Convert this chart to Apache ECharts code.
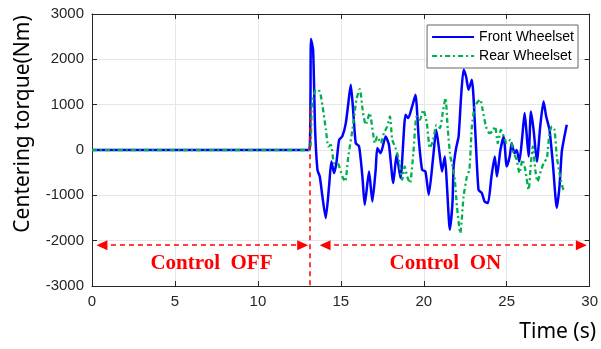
<!DOCTYPE html>
<html>
<head>
<meta charset="utf-8">
<script src="https://cdn.jsdelivr.net/npm/echarts@6/dist/echarts.min.js"></script>
<style>
html, body { margin: 0; padding: 0; background: #fff; }
#chart { width: 601px; height: 349px; }
</style>
</head>
<body>
<div id="chart"></div>
<script>
// [time (s), torque (Nm)]
var frontWheelset = [
    [0, 0], [13.1, 0], [13.2, 2450], [13.33, 2200], [13.45, 445], [13.59, -437], [13.73, -585],
    [13.89, -1026], [14.09, -1500], [14.29, -805], [14.43, -254], [14.59, -510], [14.73, -290],
    [14.9, 225], [15.09, 300], [15.3, 593], [15.5, 1180], [15.6, 1440], [15.74, 887], [15.9, 150],
    [16.1, 80], [16.3, -585], [16.44, -1210], [16.7, -475], [16.9, -1137], [17.1, -437], [17.2, 42],
    [17.4, -70], [17.7, 300], [17.9, 115], [18.16, -730], [18.36, -105], [18.6, -620], [18.9, 777],
    [19.06, 705], [19.3, 960], [19.5, 1220], [19.7, 225], [19.9, -437], [20.1, -475], [20.3, -990],
    [20.57, -143], [20.75, 445], [20.95, -70], [21.1, -475], [21.27, -143], [21.4, -805],
    [21.57, -1760], [21.73, -1170], [21.8, -364], [21.95, 42], [22.1, 300], [22.25, 1180],
    [22.4, 1770], [22.55, 1620], [22.7, 1330], [22.9, 1550], [23.1, 445], [23.3, -880], [23.5, -950],
    [23.67, -1137], [23.87, -1170], [24.08, -585], [24.28, -143], [24.41, -585], [24.62, 0],
    [24.82, 300], [25.0, -364], [25.18, -143], [25.3, 150], [25.47, -70], [25.6, 0], [25.76, -254],
    [25.92, 225], [26.08, 815], [26.18, 445], [26.32, -143], [26.46, 850], [26.62, 445],
    [26.82, -254], [27.02, 520], [27.22, 1070], [27.38, 740], [27.58, 445], [27.78, -290],
    [28.02, -1280], [28.18, -805], [28.32, -37], [28.46, 262], [28.62, 556]
];
var rearWheelset = [
    [0, 0], [13.1, 0], [13.25, 960], [13.5, 1330], [13.73, 1290], [13.9, 960], [14.1, 445],
    [14.25, 80], [14.4, 115], [14.6, -290], [14.8, -290], [15.09, -585], [15.26, -695],
    [15.45, -143], [15.7, 445], [15.94, 1110], [16.14, 1345], [16.34, 815], [16.5, 556],
    [16.74, 815], [16.94, 373], [17.05, 150], [17.2, 300], [17.4, 150], [17.6, 373], [17.8, 520],
    [17.96, 740], [18.1, 225], [18.3, 42], [18.5, -216], [18.7, -658], [18.85, -364], [19.0, -585],
    [19.17, -730], [19.37, -70], [19.57, 740], [19.77, 667], [19.97, 887], [20.17, 630],
    [20.37, 42], [20.57, 225], [20.77, 556], [20.97, 483], [21.17, 887], [21.31, 1145],
    [21.45, 445], [21.6, -143], [21.7, -290], [21.87, -658], [22.0, -1247], [22.2, -1835],
    [22.4, -1026], [22.6, -585], [22.75, -437], [22.9, 520], [23.07, 960], [23.27, 1070],
    [23.41, 1110], [23.55, 887], [23.75, 520], [23.95, 373], [24.15, 410], [24.3, 520],
    [24.46, 150], [24.65, 445], [24.82, 300], [25.0, 150], [25.22, 225], [25.42, -70],
    [25.6, -216], [25.77, -510], [25.95, -216], [26.12, -437], [26.32, -880], [26.46, -290],
    [26.58, 80], [26.72, -437], [26.86, -695], [27.02, -510], [27.22, -290], [27.42, -180],
    [27.58, 373], [27.73, 520], [27.88, 445], [28.02, -143], [28.22, -585], [28.42, -880],
    [28.58, -915]
];
var seriesNames = ['Front Wheelset', 'Rear Wheelset'];

// control switch-over annotations
var switchTime = 13.1;
var switchLineTop = 900;
var arrowLevel = -2100;
var offArrow = [0.6, 12.7];
var onArrow = [14.05, 29.5];
var annotationLabels = [
    { text: 'Control  OFF', at: [7.2, -2500] },
    { text: 'Control  ON', at: [21.3, -2500] }
];

var axisColor = '#262626';
var red = '#ff0000';

var chart = echarts.init(document.getElementById('chart'));

function boxAxis(pos, isX) {
    return {
        type: 'value',
        position: pos,
        min: isX ? 0 : -3000,
        max: isX ? 30 : 3000,
        interval: isX ? 5 : 1000,
        axisLine: { show: true, onZero: false, lineStyle: { color: axisColor, width: 1 } },
        axisTick: { show: true, inside: true, length: 5, lineStyle: { color: axisColor } },
        axisLabel: { show: false },
        splitLine: { show: false }
    };
}

var plainNumber = function (v) { return String(v); };

var xMain = boxAxis('bottom', true);
xMain.axisLabel = { show: true, color: axisColor, fontFamily: 'Liberation Sans', fontSize: 15, margin: 8, formatter: plainNumber };
xMain.splitLine = { show: true, lineStyle: { color: '#e6e6e6', width: 1 } };
var yMain = boxAxis('left', false);
yMain.axisLabel = { show: true, color: axisColor, fontFamily: 'Liberation Sans', fontSize: 15, margin: 8, formatter: plainNumber };
yMain.splitLine = { show: true, lineStyle: { color: '#e6e6e6', width: 1 } };

var arrowLine = function (a) {
    return [{ coord: [a[0], arrowLevel] }, { coord: [a[1], arrowLevel] }];
};

chart.setOption({
    animation: false,
    backgroundColor: '#fff',
    grid: { left: 92, right: 10, top: 14, bottom: 63, containLabel: false },
    xAxis: [xMain, boxAxis('top', true)],
    yAxis: [yMain, boxAxis('right', false)],
    legend: {
        data: seriesNames,
        orient: 'vertical',
        right: 23,
        top: 25,
        itemWidth: 42,
        itemHeight: 14,
        itemGap: 5,
        padding: [5, 4, 5, 4],
        borderColor: '#666',
        borderWidth: 1,
        backgroundColor: '#fff',
        itemStyle: { opacity: 0 },
        textStyle: { fontFamily: 'Liberation Sans', fontSize: 14, color: '#000' }
    },
    graphic: [
        {
            type: 'text', x: 23, y: 124, rotation: Math.PI / 2,
            style: {
                text: 'Centering torque(Nm)', fill: '#000', font: '21px "Noto Sans"',
                textAlign: 'center', textVerticalAlign: 'middle'
            }
        },
        {
            type: 'text', x: 596, y: 332,
            style: {
                text: 'Time (s)', fill: '#000', font: '21px "Noto Sans"',
                textAlign: 'right', textVerticalAlign: 'middle'
            }
        }
    ],
    series: [
        {
            name: seriesNames[0],
            type: 'line',
            data: frontWheelset,
            symbol: 'none',
            smooth: 0.2,
            lineStyle: { color: '#0000ff', width: 2.5 },
            itemStyle: { color: '#0000ff' },
            z: 3
        },
        {
            name: seriesNames[1],
            type: 'line',
            data: rearWheelset,
            symbol: 'none',
            smooth: 0.2,
            lineStyle: { color: '#00b050', width: 2.3, type: [5, 3, 2, 3] },
            itemStyle: { color: '#00b050' },
            z: 4
        },
        {
            name: 'annotations',
            type: 'line',
            data: [],
            z: 5,
            markLine: {
                silent: true,
                symbol: ['triangle', 'triangle'],
                symbolSize: [10, 11],
                label: { show: false },
                lineStyle: { color: red, width: 1.5, type: [5, 4] },
                itemStyle: { color: red },
                data: [
                    arrowLine(offArrow),
                    arrowLine(onArrow),
                    [
                        { coord: [switchTime, switchLineTop], symbol: 'none' },
                        { coord: [switchTime, -3000], symbol: 'none' }
                    ]
                ]
            },
            markPoint: {
                silent: true,
                symbol: 'circle',
                symbolSize: 0,
                label: {
                    show: true,
                    position: 'inside',
                    color: red,
                    fontFamily: 'Liberation Serif',
                    fontWeight: 'bold',
                    fontSize: 21,
                    formatter: function (p) { return p.name; }
                },
                data: annotationLabels.map(function (a) {
                    return { name: a.text, coord: a.at };
                })
            }
        }
    ]
});
</script>
</body>
</html>
